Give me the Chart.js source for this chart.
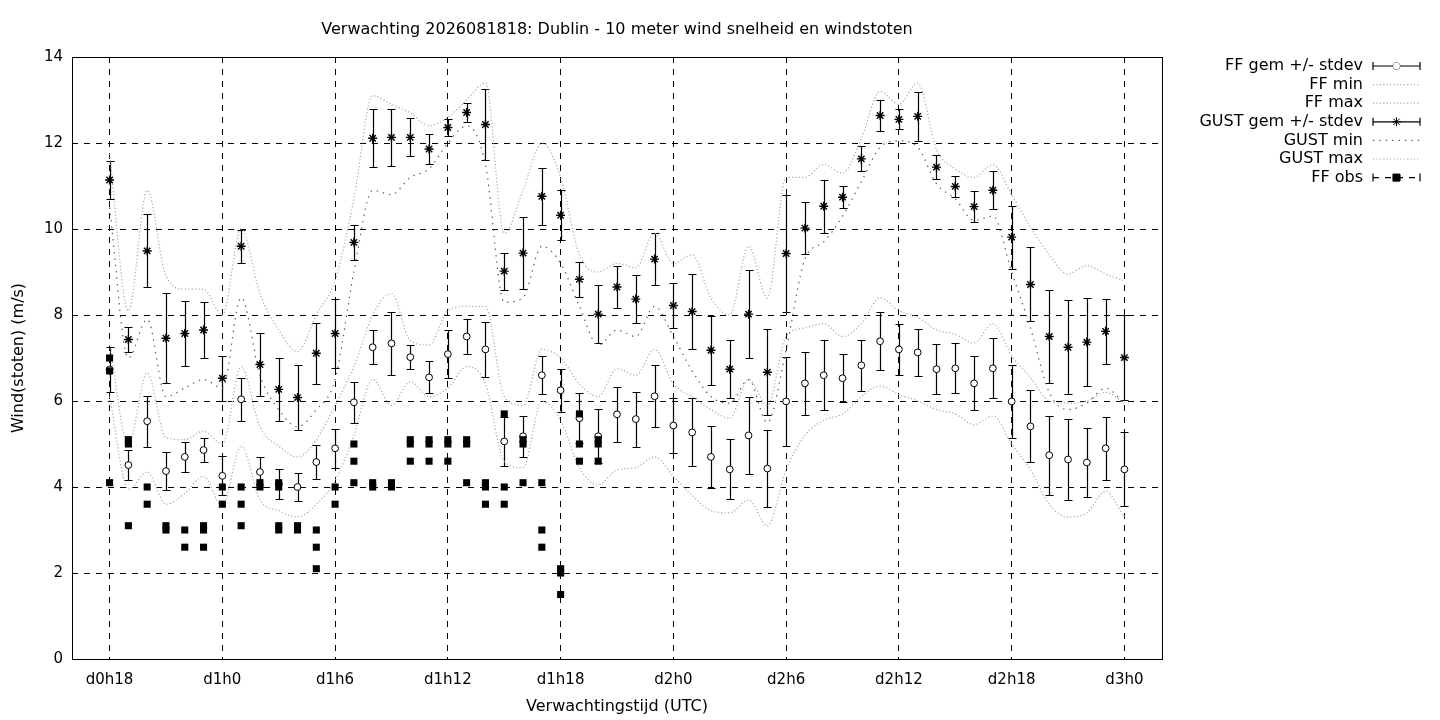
<!DOCTYPE html>
<html>
<head>
<meta charset="utf-8">
<script src="https://cdn.jsdelivr.net/npm/chart.js@4.4.1/dist/chart.umd.min.js"></script>
<style>
  html, body { margin: 0; padding: 0; background: #fff; }
</style>
</head>
<body>
<canvas id="windChart" width="1440" height="720"></canvas>
<script>
// forecast hours: index 0 = d0h18, one point per hour
const tickHours = [0, 6, 12, 18, 24, 30, 36, 42, 48, 54];
const tickLabels = ["d0h18", "d1h0", "d1h6", "d1h12", "d1h18", "d2h0", "d2h6", "d2h12", "d2h18", "d3h0"];

// 10 m wind speed (m/s): ensemble mean, stdev, min, max
const ffMean = [6.73, 4.51, 5.53, 4.37, 4.70, 4.86, 4.26, 6.04, 4.35, 4.07, 4.00, 4.58, 4.90, 5.97,
  7.25, 7.34, 7.02, 6.55, 7.09, 7.50, 7.20, 5.06, 5.18, 6.60, 6.25, 5.60, 5.18,
  5.69, 5.58, 6.11, 5.43, 5.27, 4.70, 4.41, 5.20, 4.43, 5.99, 6.41, 6.60, 6.53, 6.83,
  7.39, 7.20, 7.13, 6.74, 6.76, 6.41, 6.76, 5.99, 5.41, 4.74, 4.64, 4.57, 4.90, 4.41];
const ffSd = [0.53, 0.35, 0.59, 0.45, 0.34, 0.29, 0.45, 0.50, 0.34, 0.35, 0.33, 0.39, 0.46, 0.48,
  0.40, 0.74, 0.28, 0.37, 0.55, 0.40, 0.64, 0.57, 0.48, 0.44, 0.50, 0.58, 0.63,
  0.64, 0.64, 0.72, 0.65, 0.79, 0.72, 0.70, 0.89, 0.89, 1.04, 0.74, 0.82, 0.56, 0.60,
  0.68, 0.60, 0.55, 0.58, 0.58, 0.63, 0.70, 0.85, 0.84, 0.92, 0.95, 0.80, 0.73, 0.86];
const ffMin = [6.1, 3.95, 4.35, 3.6, 3.85, 4.25, 3.55, 4.95, 3.7, 3.45, 3.3, 3.6, 4.15, 5.2,
  6.5, 5.9, 6.45, 6.1, 6.3, 6.8, 6.4, 4.6, 4.45, 6.0, 5.55, 4.45, 4.05,
  4.4, 4.45, 4.7, 4.25, 3.8, 3.45, 3.4, 3.7, 3.1, 4.4, 5.2, 5.55, 5.7, 6.1,
  6.35, 6.15, 6.0, 5.8, 5.7, 5.45, 5.65, 5.0, 4.4, 3.6, 3.3, 3.4, 3.9, 3.3];
const ffMax = [7.3, 5.0, 6.65, 5.15, 5.1, 5.3, 5.0, 6.8, 5.4, 4.95, 4.7, 5.1, 5.9, 6.8,
  8.0, 8.5, 7.4, 7.3, 8.1, 8.2, 8.2, 6.1, 5.9, 7.2, 7.0, 6.4, 6.1,
  6.75, 6.6, 7.2, 6.4, 6.1, 5.8, 5.6, 6.5, 5.9, 7.5, 7.7, 7.8, 7.5, 7.8,
  8.4, 8.1, 7.95, 7.65, 7.55, 7.35, 7.8, 7.05, 6.55, 6.0, 5.95, 6.0, 6.2, 5.95];

// gusts (m/s): ensemble mean, stdev, min, max
const gustMean = [11.14, 7.43, 9.49, 7.46, 7.57, 7.65, 6.53, 9.60, 6.85, 6.27, 6.08, 7.11, 7.57, 9.69,
  12.11, 12.13, 12.13, 11.86, 12.36, 12.71, 12.43, 9.02, 9.44, 10.76, 10.32, 8.83, 8.02,
  8.65, 8.37, 9.30, 8.22, 8.08, 7.18, 6.74, 8.02, 6.67, 9.43, 10.02, 10.53, 10.74, 11.63,
  12.64, 12.55, 12.62, 11.44, 10.99, 10.52, 10.90, 9.81, 8.71, 7.50, 7.25, 7.37, 7.62, 7.01];
const gustSd = [0.45, 0.29, 0.85, 1.05, 0.75, 0.65, 0.52, 0.38, 0.73, 0.73, 0.75, 0.71, 0.80, 0.40,
  0.67, 0.66, 0.44, 0.34, 0.20, 0.22, 0.83, 0.43, 0.84, 0.66, 0.58, 0.40, 0.68,
  0.48, 0.56, 0.60, 0.53, 0.88, 0.80, 0.68, 1.02, 1.00, 1.37, 0.60, 0.62, 0.26, 0.29,
  0.37, 0.23, 0.57, 0.27, 0.24, 0.36, 0.44, 0.73, 0.86, 1.09, 1.09, 1.02, 0.76, 0.98];
const gustMin = [10.5, 7.0, 7.9, 6.1, 6.3, 6.5, 6.3, 8.4, 6.6, 5.8, 5.4, 5.8, 6.5, 9.0,
  10.9, 10.8, 11.2, 11.4, 12.0, 12.4, 11.5, 8.3, 8.4, 9.6, 9.2, 8.2, 7.3,
  7.65, 7.5, 8.2, 7.5, 6.7, 6.1, 5.95, 6.5, 5.5, 7.2, 9.3, 9.7, 10.3, 11.1,
  11.9, 12.05, 11.9, 11.05, 10.7, 10.2, 10.3, 9.0, 7.7, 6.2, 5.8, 5.95, 6.3, 5.95];
const gustMax = [11.75, 8.1, 10.9, 8.9, 8.6, 8.6, 8.0, 10.0, 8.5, 7.65, 7.15, 8.0, 8.8, 10.7,
  13.1, 12.9, 12.7, 12.4, 12.6, 13.0, 13.4, 9.9, 10.9, 12.0, 11.2, 9.4, 9.0,
  9.2, 9.1, 9.9, 9.2, 9.4, 8.4, 8.0, 9.6, 8.4, 11.2, 11.2, 11.5, 11.3, 12.1,
  13.2, 12.9, 13.4, 11.85, 11.4, 11.2, 11.5, 10.8, 10.05, 9.4, 8.95, 9.15, 8.95, 8.8];

// observed wind speed, several values per hour (only up to d1h20)
const ffObs = [[7.0, 6.7, 4.1], [5.1, 5.0, 3.1], [4.0, 3.6], [3.1, 3.0], [3.0, 2.6], [3.1, 3.0, 2.6],
  [4.0, 3.6], [4.0, 3.6, 3.1], [4.1, 4.0], [4.1, 4.0, 3.1, 3.0], [3.1, 3.0], [3.0, 2.6, 2.1],
  [4.0, 3.6], [5.0, 4.6, 4.1], [4.1, 4.0], [4.1, 4.0], [5.1, 5.0, 4.6], [5.1, 5.0, 4.6],
  [5.1, 5.0, 4.6], [5.1, 5.0, 4.1], [4.1, 4.0, 3.6], [5.7, 4.0, 3.6], [5.1, 5.0, 4.1],
  [4.1, 3.0, 2.6], [2.1, 2.0, 1.5], [5.7, 5.0, 4.6], [5.1, 5.0, 4.6]];

const FONT = "'DejaVu Sans', sans-serif";
const LIGHT = "#a8a8a8";
const DARK = "#5a5a5a";

const pts = arr => arr.map((v, i) => ({ x: i, y: v }));
const obsPts = ffObs.flatMap((vals, i) => vals.map(v => ({ x: i, y: v })));

// vertical error bars with caps, drawn before the markers
const errorBars = {
  id: "errorBars",
  beforeDatasetsDraw(chart) {
    const { ctx, scales: { x, y } } = chart;
    ctx.save();
    ctx.strokeStyle = "#000";
    ctx.lineWidth = 1.2;
    chart.data.datasets.forEach(ds => {
      if (!ds.errors) return;
      ds.data.forEach((p, i) => {
        const px = Math.round(x.getPixelForValue(p.x)) + 0.5;
        const top = Math.round(y.getPixelForValue(p.y + ds.errors[i])) + 0.5;
        const bot = Math.round(y.getPixelForValue(p.y - ds.errors[i])) + 0.5;
        ctx.beginPath();
        ctx.moveTo(px, top); ctx.lineTo(px, bot);
        ctx.moveTo(px - 4, top); ctx.lineTo(px + 4, top);
        ctx.moveTo(px - 4, bot); ctx.lineTo(px + 4, bot);
        ctx.stroke();
      });
    });
    ctx.restore();
  }
};

// frame, title and gnuplot-like legend on the right
const decorations = {
  id: "decorations",
  afterDraw(chart) {
    const { ctx, chartArea: a } = chart;
    ctx.save();
    ctx.strokeStyle = "#000";
    ctx.lineWidth = 1;
    ctx.setLineDash([]);
    ctx.strokeRect(Math.round(a.left) + 0.5, Math.round(a.top) + 0.5,
      Math.round(a.right - a.left), Math.round(a.bottom - a.top));

    ctx.fillStyle = "#000";
    ctx.font = "16px " + FONT;
    ctx.textAlign = "center";
    ctx.textBaseline = "middle";
    ctx.fillText("Verwachting 2026081818: Dublin - 10 meter wind snelheid en windstoten",
      (a.left + a.right) / 2, 30);

    const x0 = 1373, x1 = 1420, textX = 1363;
    chart.data.datasets.forEach((ds, k) => {
      const yy = 66 + k * 18.6;
      ctx.fillStyle = "#000";
      ctx.textAlign = "right";
      ctx.fillText(ds.label, textX, yy);
      ctx.save();
      if (ds.sample === "err" || ds.sample === "obs") {
        ctx.strokeStyle = "#000";
        ctx.lineWidth = 1.2;
        ctx.setLineDash(ds.sample === "obs" ? [6, 6] : []);
        ctx.beginPath();
        ctx.moveTo(x0, yy); ctx.lineTo(x1, yy);
        ctx.stroke();
        ctx.setLineDash([]);
        ctx.beginPath();
        ctx.moveTo(x0, yy - 4); ctx.lineTo(x0, yy + 4);
        ctx.moveTo(x1, yy - 4); ctx.lineTo(x1, yy + 4);
        ctx.stroke();
        ctx.fillStyle = ds.pointBackgroundColor;
        ctx.strokeStyle = ds.pointBorderColor;
        ctx.lineWidth = 1;
        Chart.helpers.drawPoint(ctx, { pointStyle: ds.pointStyle, radius: ds.pointRadius, borderWidth: 1, rotation: 0 },
          (x0 + x1) / 2, yy);
        ctx.fill();
      } else {
        ctx.strokeStyle = ds.borderColor;
        ctx.lineWidth = ds.borderWidth;
        ctx.setLineDash(ds.borderDash);
        ctx.beginPath();
        ctx.moveTo(x0, yy); ctx.lineTo(x1, yy);
        ctx.stroke();
      }
      ctx.restore();
    });
    ctx.restore();
  }
};

const dotted = (label, data, color, dash) => ({
  label: label,
  data: pts(data),
  sample: "line",
  order: 5,
  showLine: true,
  borderColor: color,
  borderWidth: 1.2,
  borderDash: dash,
  pointRadius: 0,
  cubicInterpolationMode: "monotone",
  fill: false
});

new Chart(document.getElementById("windChart"), {
  type: "scatter",
  data: {
    datasets: [
      {
        label: "FF gem +/- stdev",
        data: pts(ffMean),
        errors: ffSd,
        sample: "err",
        order: 2,
        pointStyle: "circle",
        pointRadius: 3.4,
        pointBorderWidth: 1,
        pointBackgroundColor: "#fff",
        pointBorderColor: "#000"
      },
      dotted("FF min", ffMin, LIGHT, [1.2, 2.2]),
      dotted("FF max", ffMax, LIGHT, [1.2, 2.2]),
      {
        label: "GUST gem +/- stdev",
        data: pts(gustMean),
        errors: gustSd,
        sample: "err",
        order: 1,
        pointStyle: "star",
        pointRadius: 4.5,
        pointBorderWidth: 1.4,
        pointBackgroundColor: "#000",
        pointBorderColor: "#000"
      },
      dotted("GUST min", gustMin, DARK, [1.4, 5]),
      dotted("GUST max", gustMax, LIGHT, [1.2, 2.2]),
      {
        label: "FF obs",
        data: obsPts,
        sample: "obs",
        order: 0,
        pointStyle: "rect",
        pointRadius: 5,
        pointBorderWidth: 0,
        pointBackgroundColor: "#000",
        pointBorderColor: "#000"
      }
    ]
  },
  options: {
    responsive: false,
    animation: false,
    devicePixelRatio: 1,
    layout: { padding: { top: 57, right: 278, left: 0, bottom: 0 } },
    plugins: {
      legend: { display: false },
      title: { display: false },
      tooltip: { enabled: false }
    },
    scales: {
      x: {
        type: "linear",
        min: -2,
        max: 56,
        afterBuildTicks: s => { s.ticks = tickHours.map(v => ({ value: v })); },
        afterFit: s => { s.height = 61; },
        ticks: {
          callback: v => tickLabels[tickHours.indexOf(v)],
          color: "#000",
          font: { family: FONT, size: 15 },
          padding: 12,
          maxRotation: 0,
          autoSkip: false
        },
        grid: { color: "#000", lineWidth: 1, drawTicks: false },
        border: { display: false, dash: [6, 6] },
        title: {
          display: true,
          text: "Verwachtingstijd (UTC)",
          color: "#000",
          font: { family: FONT, size: 16 },
          padding: { top: 0, bottom: 4 }
        }
      },
      y: {
        min: 0,
        max: 14,
        afterFit: s => { s.width = 72; },
        ticks: {
          stepSize: 2,
          color: "#000",
          font: { family: FONT, size: 15 },
          padding: 9
        },
        grid: { color: "#000", lineWidth: 1, drawTicks: false },
        border: { display: false, dash: [6, 6] },
        title: {
          display: true,
          text: "Wind(stoten) (m/s)",
          color: "#000",
          font: { family: FONT, size: 16 },
          padding: { top: 9, bottom: 0 }
        }
      }
    }
  },
  plugins: [errorBars, decorations]
});
</script>
</body>
</html>
